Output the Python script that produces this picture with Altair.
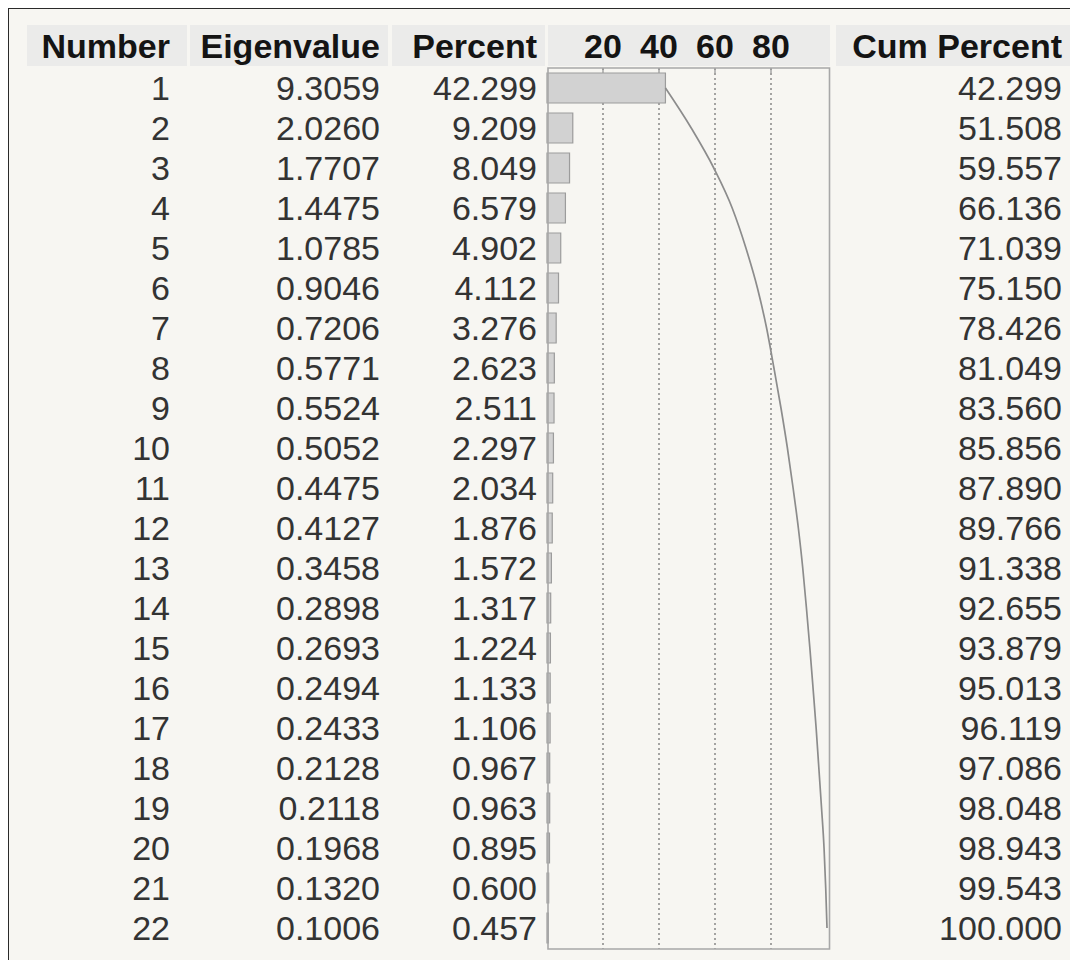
import altair as alt
import pandas as pd

numbers = list(range(1, 23))
eigenvalues = [9.3059, 2.0260, 1.7707, 1.4475, 1.0785, 0.9046, 0.7206, 0.5771, 0.5524, 0.5052,
               0.4475, 0.4127, 0.3458, 0.2898, 0.2693, 0.2494, 0.2433, 0.2128, 0.2118, 0.1968,
               0.1320, 0.1006]
percents = [42.299, 9.209, 8.049, 6.579, 4.902, 4.112, 3.276, 2.623, 2.511, 2.297, 2.034,
            1.876, 1.572, 1.317, 1.224, 1.133, 1.106, 0.967, 0.963, 0.895, 0.600, 0.457]
cum_percents = [42.299, 51.508, 59.557, 66.136, 71.039, 75.150, 78.426, 81.049, 83.560, 85.856,
                87.890, 89.766, 91.338, 92.655, 93.879, 95.013, 96.119, 97.086, 98.048, 98.943,
                99.543, 100.000]
grid_ticks = [20, 40, 60, 80]
headers = ["Number", "Eigenvalue", "Percent", "Cum Percent"]

df = pd.DataFrame({"Number": numbers, "Eigen": eigenvalues, "Pct": percents, "Cum": cum_percents})
grid_df = pd.DataFrame({"tick": grid_ticks})
one = pd.DataFrame({"k": [0]})

FONT = "Liberation Sans"
FS = 34
BG = "#f7f6f2"
HEADER_BG = "#ebebea"
TEXT = "#333333"

W, H = 1062, 952
xscale = alt.Scale(domain=[0, 100], range=[539, 819], nice=False, zero=False)
yscale = alt.Scale(domain=[0.5, 22.5], range=[60, 940], nice=False, zero=False)

base = alt.Chart(df)

# header cells (layout)
cells = [(19, 179), (182, 380), (384, 537), (540, 822), (828, 1062)]
cell_layers = [
    alt.Chart(one).mark_rect(color=HEADER_BG).encode(
        x=alt.value(a), x2=alt.value(b), y=alt.value(17), y2=alt.value(58))
    for a, b in cells
]

header_right = [162, 372, 529, 1054]
header_layers = [
    alt.Chart(pd.DataFrame({"h": [h]})).mark_text(
        font=FONT, fontSize=FS, fontWeight="bold", align="right", baseline="middle", color="#141414"
    ).encode(x=alt.value(xr), y=alt.value(40), text="h:N")
    for h, xr in zip(headers, header_right)
]

axis_labels = alt.Chart(grid_df).mark_text(
    font=FONT, fontSize=FS, fontWeight="bold", align="center", baseline="middle", color="#141414"
).encode(x=alt.X("tick:Q", scale=xscale, axis=None), y=alt.value(40), text="tick:Q")

gridlines = alt.Chart(grid_df).mark_rule(
    color="#808080", strokeDash=[2, 3], strokeWidth=1.4
).encode(x=alt.X("tick:Q", scale=xscale, axis=None), y=alt.value(60), y2=alt.value(941))

topticks = alt.Chart(grid_df).mark_rule(color="#9a9a9a", strokeWidth=1.3).encode(
    x=alt.X("tick:Q", scale=xscale, axis=None), y=alt.value(60), y2=alt.value(65))

bars = base.transform_calculate(
    lo="datum.Number - 0.375", hi="datum.Number + 0.375", zero="0"
).mark_rect(fill="#d2d2d2", stroke="#9c9c9c", strokeWidth=1.2).encode(
    x=alt.X("zero:Q", scale=xscale, axis=None),
    x2="Pct:Q",
    y=alt.Y("lo:Q", scale=yscale, axis=None),
    y2="hi:Q",
)

box = alt.Chart(one).mark_rect(fill=None, stroke="#a8a8a8", strokeWidth=1.6).encode(
    x=alt.value(540), x2=alt.value(821.5), y=alt.value(60), y2=alt.value(941))

line = base.mark_line(color="#8c8c8c", strokeWidth=1.7, interpolate="monotone").encode(
    x=alt.X("Cum:Q", scale=xscale, axis=None),
    y=alt.Y("Number:Q", scale=yscale, axis=None),
)

def col(field, fmt, xr):
    return base.mark_text(font=FONT, fontSize=FS, align="right", baseline="middle", color=TEXT, dy=2).encode(
        x=alt.value(xr),
        y=alt.Y("Number:Q", scale=yscale, axis=None),
        text=alt.Text(field, format=fmt),
    )

num_col = col("Number:Q", "d", 162)
eig_col = col("Eigen:Q", ".4f", 372)
pct_col = col("Pct:Q", ".3f", 529)
cum_col = col("Cum:Q", ".3f", 1054)

border_left = alt.Chart(one).mark_rule(color="#2a2a2a", strokeWidth=2).encode(
    x=alt.value(0), y=alt.value(0), y2=alt.value(H))
border_top = alt.Chart(one).mark_rule(color="#2a2a2a", strokeWidth=2).encode(
    x=alt.value(0), x2=alt.value(W), y=alt.value(0))

chart = alt.layer(
    *cell_layers, *header_layers, axis_labels, gridlines, topticks, bars, box, line,
    num_col, eig_col, pct_col, cum_col, border_left, border_top
).properties(
    width=W, height=H, background=BG, padding=0,
    autosize=alt.AutoSizeParams(type="none"),
).configure_view(stroke=None)

chart.save("out.html", embed_options={"renderer": "svg", "actions": False})
